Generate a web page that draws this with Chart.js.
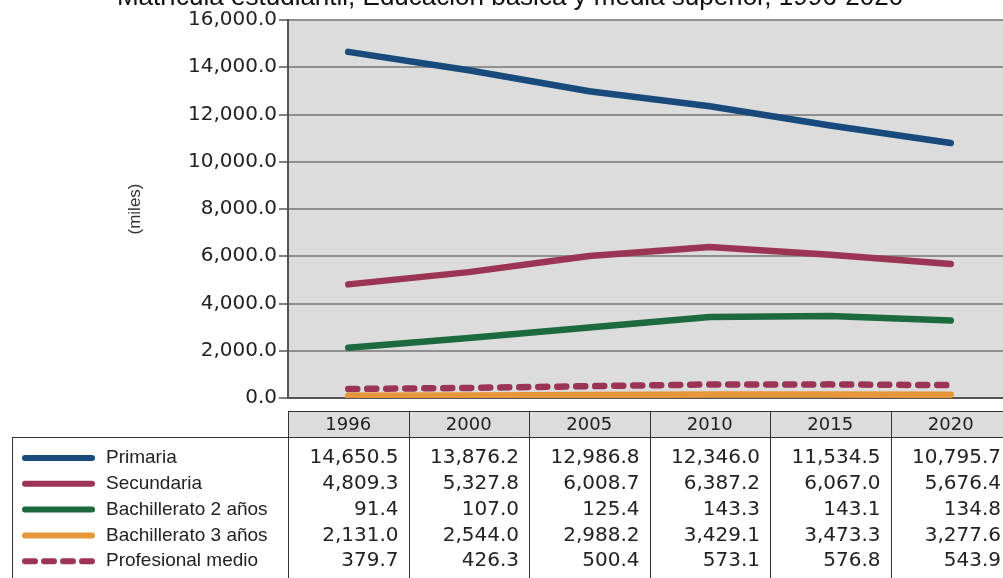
<!DOCTYPE html>
<html><head><meta charset="utf-8">
<script src="https://cdn.jsdelivr.net/npm/chart.js@4.4.1/dist/chart.umd.min.js"></script>
<style>
html,body{margin:0;padding:0;background:#fff;overflow:hidden;width:1003px;height:578px}
#wrap{position:absolute;left:0;top:0;width:1020px;height:578px}
</style></head>
<body><div id="wrap"><canvas id="c" width="1020" height="578"></canvas></div>
<script>
const chartTitle = 'Matrícula estudiantil, Educación básica y media superior, 1996-2020';
const axisTitle = '(miles)';
const years = ['1996', '2000', '2005', '2010', '2015', '2020'];
const primaria = [14650.5, 13876.2, 12986.8, 12346.0, 11534.5, 10795.7];
const secundaria = [4809.3, 5327.8, 6008.7, 6387.2, 6067.0, 5676.4];
const bach2 = [91.4, 107.0, 125.4, 143.3, 143.1, 134.8];
const bach3 = [2131.0, 2544.0, 2988.2, 3429.1, 3473.3, 3277.6];
const profesional = [379.7, 426.3, 500.4, 573.1, 576.8, 543.9];
const rowLabels = ['Primaria', 'Secundaria', 'Bachillerato 2 años', 'Bachillerato 3 años', 'Profesional medio'];

const COL = {blue: '#184a7c', red: '#9c3456', green: '#1d6a3f', orange: '#e8963a'};
const rows = [
  {label: rowLabels[0], values: primaria, color: COL.blue, dash: false},
  {label: rowLabels[1], values: secundaria, color: COL.red, dash: false},
  {label: rowLabels[2], values: bach2, color: COL.green, dash: false},
  {label: rowLabels[3], values: bach3, color: COL.orange, dash: false},
  {label: rowLabels[4], values: profesional, color: COL.red, dash: true}
];
const fmt = v => v.toLocaleString('en-US', {minimumFractionDigits: 1, maximumFractionDigits: 1});

const extras = {
  id: 'extras',
  beforeDraw(chart) {
    const {ctx, chartArea: a} = chart;
    ctx.save();
    ctx.fillStyle = '#dcdcdc';
    ctx.fillRect(a.left, a.top, a.right - a.left, a.bottom - a.top);
    ctx.restore();
  },
  afterDraw(chart) {
    const {ctx, chartArea: a, scales: {x}} = chart;
    ctx.save();
    // title (cut off at top as in the reference)
    ctx.font = '26px "Liberation Sans", Arial, sans-serif';
    ctx.fillStyle = '#111';
    ctx.textAlign = 'center';
    ctx.textBaseline = 'alphabetic';
    ctx.fillText(chartTitle, 510, 5);

    // data table
    const colW = (a.right - a.left) / years.length;
    const hTop = 411, hBot = 437, tLeft = 12, bottom = 580;
    ctx.fillStyle = '#dcdcdc';
    ctx.fillRect(a.left, hTop, a.right - a.left, hBot - hTop);
    ctx.strokeStyle = '#333';
    ctx.lineWidth = 1;
    ctx.beginPath();
    ctx.moveTo(a.left, hTop + 0.5); ctx.lineTo(a.right + 10, hTop + 0.5);
    ctx.moveTo(tLeft, hBot + 0.5); ctx.lineTo(a.right + 10, hBot + 0.5);
    ctx.moveTo(tLeft + 0.5, hBot); ctx.lineTo(tLeft + 0.5, bottom);
    for (let i = 0; i <= years.length; i++) {
      const xx = Math.round(a.left + i * colW) + 0.5;
      ctx.moveTo(xx, hTop); ctx.lineTo(xx, bottom);
    }
    ctx.stroke();

    ctx.fillStyle = '#222';
    ctx.textBaseline = 'middle';
    ctx.textAlign = 'center';
    ctx.font = '18px "DejaVu Sans", sans-serif';
    years.forEach((y, i) => ctx.fillText(y, x.getPixelForValue(i), 425));

    rows.forEach((r, ri) => {
      const cy = 458 + ri * 25.8;
      ctx.strokeStyle = r.color;
      ctx.lineWidth = 6;
      ctx.lineCap = 'round';
      ctx.setLineDash(r.dash ? [10, 9] : []);
      ctx.beginPath(); ctx.moveTo(25, cy); ctx.lineTo(92, cy); ctx.stroke();
      ctx.setLineDash([]);
      ctx.fillStyle = '#222';
      ctx.font = '19px "Liberation Sans", Arial, sans-serif';
      ctx.textAlign = 'left';
      ctx.fillText(r.label, 106, cy);
      ctx.font = '20px "DejaVu Sans", sans-serif';
      ctx.textAlign = 'right';
      r.values.forEach((v, i) => ctx.fillText(fmt(v), a.left + (i + 1) * colW - 10, cy));
    });
    ctx.restore();
  }
};

const lineDs = (label, data, color, dash) => ({
  label, data, borderColor: color, backgroundColor: color,
  borderWidth: 6.5, borderCapStyle: 'round', borderJoinStyle: 'round',
  borderDash: dash ? [9, 10] : [], pointRadius: 0, tension: 0, fill: false
});

new Chart(document.getElementById('c'), {
  type: 'line',
  data: {
    labels: years,
    datasets: [
      lineDs(rowLabels[0], primaria, COL.blue, false),
      lineDs(rowLabels[1], secundaria, COL.red, false),
      // the reference draws the 3-year series in green and the 2-year series in orange
      lineDs(rowLabels[3], bach3, COL.green, false),
      lineDs(rowLabels[2], bach2, COL.orange, false),
      lineDs(rowLabels[4], profesional, COL.red, true)
    ]
  },
  options: {
    responsive: false, animation: false, devicePixelRatio: 1,
    layout: {padding: {left: 0, top: 20, right: 9, bottom: 180}},
    plugins: {legend: {display: false}, tooltip: {enabled: false}, title: {display: false}},
    scales: {
      x: {type: 'category', display: false, offset: true},
      y: {
        min: 0, max: 16000,
        ticks: {stepSize: 2000, callback: v => fmt(v), color: '#222',
                font: {family: 'DejaVu Sans', size: 20}, padding: 2},
        grid: {color: c => c.index === 0 ? '#555' : '#8f8f8f', lineWidth: 2,
               tickLength: 9, tickColor: '#555', tickWidth: 1.5},
        border: {color: '#555', width: 2},
        title: {display: true, text: axisTitle, color: '#333',
                font: {family: 'Liberation Sans', size: 17}, padding: {top: 125, bottom: 0}},
        afterFit: s => { s.width = 288; }
      }
    }
  },
  plugins: [extras]
});
</script>
</body></html>
